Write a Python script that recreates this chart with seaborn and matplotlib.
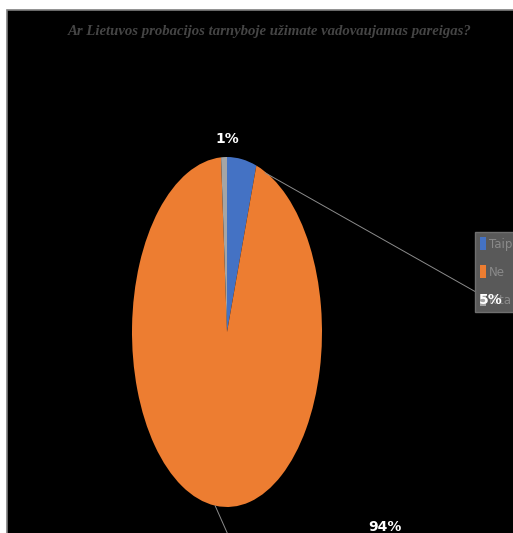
import matplotlib.pyplot as plt
import numpy as np
import seaborn as sns
from matplotlib.patches import Rectangle

sns.set_theme(style="dark")
plt.rcParams["font.family"] = ["DejaVu Sans"]

title = "Ar Lietuvos probacijos tarnyboje užimate vadovaujamas pareigas?"
labels = ["Taip", "Ne", "Kita"]
shares = [5, 94, 1]
colors = ["#4472C4", "#ED7D31", "#A5A5A5"]

W, H = 513, 533
fig = plt.figure(figsize=(W / 100, H / 100), dpi=100, facecolor="white")

# black chart area in pixel coordinates
bg = fig.add_axes([0, 0, 1, 1], zorder=-1)
bg.set_xlim(0, W)
bg.set_ylim(H, 0)
bg.axis("off")
bg.add_patch(Rectangle((7, 10), W, H, facecolor="black", edgecolor="#7f7f7f", lw=1.2))

# stretched (elliptical) pie
cx, cy, rx, ry = 227, 332, 95, 175
ax = fig.add_axes([(cx - rx) / W, (H - cy - ry) / H, 2 * rx / W, 2 * ry / H])
wedges, _ = ax.pie(shares, colors=colors, startangle=90, counterclock=False,
                   wedgeprops=dict(linewidth=0))
ax.set_aspect("auto")
ax.set_xlim(-1, 1)
ax.set_ylim(-1, 1)
ax.axis("off")

fig.text(270 / W, 1 - 31 / H, title, ha="center", va="center", color="#454545",
         family="Liberation Serif", style="italic", weight="bold", fontsize=10.6)

# data labels with leader lines
line_kw = dict(arrowstyle="-", color="#8c8c8c", lw=0.7, shrinkA=0, shrinkB=0)
ax.annotate("", xy=(0.40, 0.91), xytext=(483, H - 296), textcoords="figure pixels",
            arrowprops=line_kw, annotation_clip=False)
mid = np.deg2rad(90 - 360 * (shares[0] + shares[1] / 2) / 100)
ax.annotate("", xy=(np.cos(mid), np.sin(mid)), xytext=(229, -4), textcoords="figure pixels",
            arrowprops=line_kw, annotation_clip=False)

pos = {"Taip": (491, 300), "Ne": (385, 527), "Kita": (227, 139)}
for lab, val in zip(labels, shares):
    x, y = pos[lab]
    fig.text(x / W, 1 - y / H, f"{val}%", ha="center", va="center", color="white",
             fontsize=10, weight="bold", zorder=6)

leg = fig.legend(wedges, labels, loc="upper left", bbox_to_anchor=(475 / W, 1 - 232 / H),
                 frameon=True, fancybox=False, facecolor="#595959", edgecolor="#6f6f6f",
                 framealpha=1, fontsize=8.5, handlelength=0.5, handleheight=1.3,
                 handletextpad=0.2, borderpad=0.45, labelspacing=1.25, borderaxespad=0)
for t in leg.get_texts():
    t.set_color("#8a8a8a")

fig.savefig("out.png", dpi=100, facecolor="white")
